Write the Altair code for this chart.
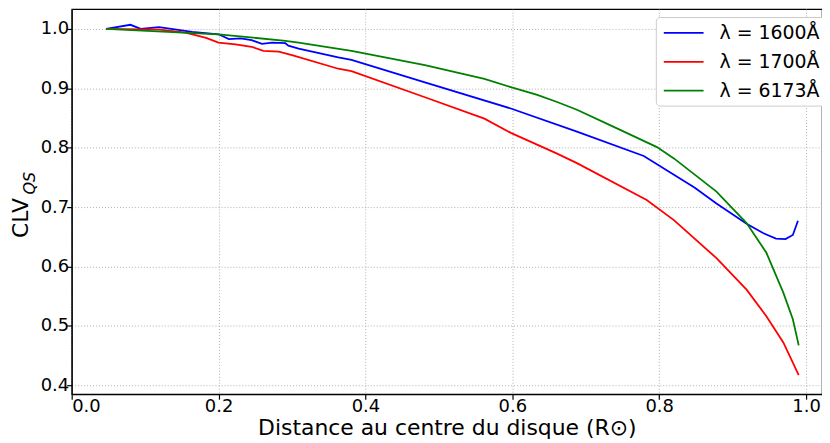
import altair as alt
import pandas as pd

# ---- data ----
labels = ["λ = 1600Å", "λ = 1700Å", "λ = 6173Å"]
colors = ["#0000ff", "#ff0000", "#008000"]

x_1600 = [0.047, 0.080, 0.094, 0.119, 0.164, 0.200, 0.214, 0.230, 0.245, 0.259, 0.273, 0.291,
          0.295, 0.309, 0.363, 0.381, 0.481, 0.598, 0.688, 0.779, 0.848, 0.878, 0.919, 0.942,
          0.959, 0.972, 0.982, 0.989]
y_1600 = [1.000, 1.007, 1.000, 1.003, 0.995, 0.991, 0.983, 0.984, 0.981, 0.975, 0.977, 0.976,
          0.972, 0.967, 0.952, 0.948, 0.910, 0.866, 0.827, 0.786, 0.733, 0.706, 0.672, 0.656,
          0.647, 0.646, 0.653, 0.677]

x_1700 = [0.047, 0.120, 0.155, 0.183, 0.200, 0.223, 0.245, 0.261, 0.282, 0.300, 0.363, 0.381,
          0.481, 0.562, 0.598, 0.661, 0.688, 0.783, 0.820, 0.878, 0.919, 0.946, 0.969, 0.990]
y_1700 = [1.000, 0.999, 0.994, 0.985, 0.977, 0.974, 0.970, 0.963, 0.962, 0.956, 0.933, 0.929,
          0.885, 0.849, 0.825, 0.790, 0.774, 0.712, 0.678, 0.614, 0.561, 0.516, 0.472, 0.417]

x_6173 = [0.047, 0.200, 0.291, 0.309, 0.381, 0.481, 0.562, 0.598, 0.634, 0.661, 0.688, 0.733,
          0.797, 0.820, 0.878, 0.919, 0.946, 0.969, 0.982, 0.990]
y_6173 = [1.000, 0.991, 0.980, 0.977, 0.963, 0.939, 0.916, 0.902, 0.889, 0.877, 0.864, 0.838,
          0.801, 0.782, 0.726, 0.673, 0.623, 0.556, 0.511, 0.467]

x_ticks = [0.0, 0.2, 0.4, 0.6, 0.8, 1.0]
y_ticks = [0.4, 0.5, 0.6, 0.7, 0.8, 0.9, 1.0]

series = [(labels[0], x_1600, y_1600), (labels[1], x_1700, y_1700), (labels[2], x_6173, y_6173)]
rows = []
for name, xs, ys in series:
    for i, (a, b) in enumerate(zip(xs, ys)):
        rows.append({"serie": name, "x": a, "y": b, "i": i})
df = pd.DataFrame(rows)

FONT = "DejaVu Sans"

color = alt.Color(
    "serie:N",
    scale=alt.Scale(domain=labels, range=colors),
    legend=alt.Legend(
        title=None, orient="none", legendX=587, legendY=8,
        symbolType="M-2,0H2", symbolSize=400, symbolStrokeWidth=1.8, symbolOffset=12,
        labelFont=FONT, labelFontSize=19, labelColor="black", labelOffset=25,
        padding=5, rowPadding=8, fillColor="white", strokeColor="#cccccc",
        cornerRadius=4,
    ),
)

xenc = alt.X("x:Q", scale=alt.Scale(domain=[0, 1.0217], nice=False, zero=False),
             axis=alt.Axis(values=x_ticks, format=".1f",
                           title="Distance au centre du disque (R⊙)", titlePadding=3))
yenc = alt.Y("y:Q", scale=alt.Scale(domain=[0.3849, 1.0335], nice=False, zero=False),
             axis=alt.Axis(values=y_ticks, format=".1f", title=None))

layers = []
for name in labels:
    layers.append(
        alt.Chart(df).transform_filter(alt.datum.serie == name)
        .mark_line(strokeWidth=1.8)
        .encode(x=xenc, y=yenc, color=color, order="i:Q")
    )

ylab = alt.Chart(pd.DataFrame({"t": ["CLV"]})).mark_text(
    font=FONT, fontSize=22, angle=270, align="center", baseline="middle", color="black"
).encode(text="t:N", x=alt.value(-51), y=alt.value(210))
ysub = alt.Chart(pd.DataFrame({"t": ["QS"]})).mark_text(
    font=FONT, fontSize=16, fontStyle="italic", angle=270, align="center",
    baseline="middle", color="black"
).encode(text="t:N", x=alt.value(-42), y=alt.value(175))

chart = alt.layer(*layers, ylab, ysub).properties(
    width=754, height=387,
    padding={"left": 64, "top": 0, "right": 0, "bottom": 48},
    autosize=alt.AutoSizeParams(type="none"),
).configure_axis(
    labelFont=FONT, labelFontSize=18, labelColor="black",
    titleFont=FONT, titleFontSize=22, titleFontWeight="normal", titleColor="black",
    domainColor="black", domainWidth=1.2, tickColor="black", tickSize=5, tickWidth=1.2,
    labelPadding=-2,
    gridColor="#b0b0b0", gridDash=[1, 2], gridWidth=1,
).configure_view(stroke="black", strokeWidth=1.2)

chart.save("out.html", embed_options={"renderer": "svg", "actions": False})
